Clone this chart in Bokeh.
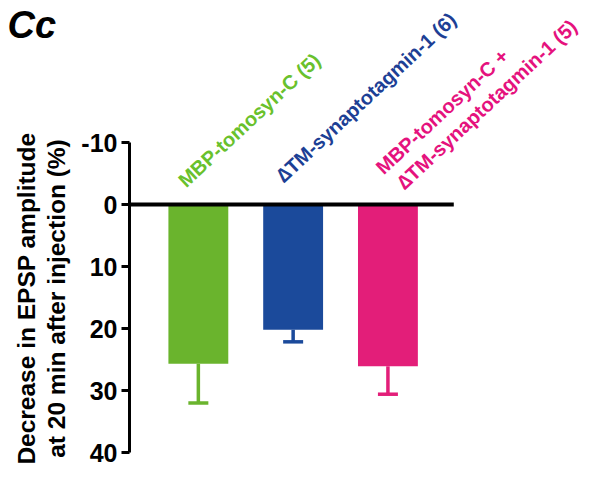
import math
from bokeh.plotting import figure
from bokeh.layouts import row
from bokeh.models import Range1d, FixedTicker, ColumnDataSource, PrintfTickFormatter
from bokeh.core.properties import value
from bokeh.embed import file_html
from bokeh.resources import INLINE

# ---- data ----
groups = ["MBP-tomosyn-C (5)", "\u2206TM-synaptotagmin-1 (6)", "MBP-tomosyn-C +\n\u2206TM-synaptotagmin-1 (5)"]
means = [25.7, 20.2, 26.1]
sems = [6.3, 1.95, 4.5]
y_ticks = [-10, 0, 10, 20, 30, 40]
panel_label = "Cc"
y_label_lines = ["Decrease in EPSP amplitude", "at 20 min after injection (%)"]
bar_colors = ["#6ab42d", "#1b4a9b", "#e31e79"]
text_colors = ["#69c12c", "#1d3f95", "#e5127d"]

FONT = "Liberation Sans"
W, H = 581, 465
LEFT_W = 78            # width of the side panel holding the panel label / axis title
AXIS_X = 128           # picture px of the y axis
X_PX0, X_STEP = 197, 95.0
Y_TOP_TICK, Y_BOT_TICK = 142, 452
Y_STEP = (Y_BOT_TICK - Y_TOP_TICK) / (max(y_ticks) - min(y_ticks))
Y_PX0 = Y_TOP_TICK - min(y_ticks) * Y_STEP

def px2x(px):
    return 1 + (px - X_PX0) / X_STEP

def py2y(py):
    return (py - Y_PX0) / Y_STEP

# ---- side panel: "Cc" and the two-line axis title ----
side = figure(width=LEFT_W, height=H, output_backend="svg", toolbar_location=None,
              title=None,
              x_range=Range1d(0, LEFT_W), y_range=Range1d(H, 0),
              x_axis_location=None, y_axis_location=None,
              min_border=0)
side.outline_line_color = None
side.grid.visible = False
side.text(x=[7], y=[24], text=[panel_label], text_font=value(FONT),
          text_font_style="bold italic", text_font_size="38px",
          text_align="left", text_baseline="alphabetic", text_color="black")
side.text(x=[26, 56], y=[298, 298], text=y_label_lines, angle=math.pi / 2,
          text_font=value(FONT), text_font_style="bold", text_font_size="24.5px",
          text_align="center", text_baseline="alphabetic", text_color="black")

# ---- main plot ----
p = figure(width=W - LEFT_W, height=H, output_backend="svg", toolbar_location=None,
           title=None,
           x_range=Range1d(px2x(AXIS_X), px2x(W)),
           y_range=Range1d(py2y(H), py2y(0)),
           x_axis_location=None, min_border_left=AXIS_X - LEFT_W,
           min_border_right=0, min_border_top=0, min_border_bottom=0)
p.outline_line_color = None
p.grid.visible = False

yax = p.yaxis[0]
yax.ticker = FixedTicker(ticks=y_ticks)
yax.formatter = PrintfTickFormatter(format="%d")
yax.bounds = (min(y_ticks), max(y_ticks))
yax.axis_line_width = 3
yax.major_tick_line_width = 3
yax.major_tick_out = 8
yax.major_tick_in = 0
yax.minor_tick_line_color = None
yax.major_label_text_font = FONT
yax.major_label_text_font_style = "bold"
yax.major_label_text_font_size = "25px"
yax.major_label_text_color = "black"
yax.major_label_standoff = 4

xs = [i + 1 for i in range(len(groups))]
src = ColumnDataSource(dict(x=xs, mean=means, color=bar_colors,
                            end=[m + s for m, s in zip(means, sems)]))
p.vbar(x="x", top=0, bottom="mean", width=60 / X_STEP, fill_color="color",
       line_color=None, source=src)
p.segment(x0="x", y0="mean", x1="x", y1="end", line_color="color",
          line_width=3.5, source=src)
p.scatter(x="x", y="end", marker="dash", size=20, line_color="color",
          line_width=3.5, source=src)

# zero line
p.segment(x0=[px2x(AXIS_X)], y0=[0], x1=[px2x(453)], y1=[0],
          line_color="black", line_width=4)

# rotated group labels: (dx px from bar centre, dy px from zero line)
anchors = {0: [(-17, -21)], 1: [(-14, -26)], 2: [(-9, -34), (12, -19)]}
tx, ty, tt, tc = [], [], [], []
for i, g in enumerate(groups):
    for (dx, dy), line in zip(anchors[i], g.split("\n")):
        tx.append(xs[i] + dx / X_STEP)
        ty.append(py2y(Y_PX0 + dy))
        tt.append(line)
        tc.append(text_colors[i])
p.text(x=tx, y=ty, text=tt, text_color=tc, angle=43, angle_units="deg",
       text_align="left", text_baseline="alphabetic",
       text_font=value(FONT), text_font_style="bold",
       text_font_size="20px")

layout = row(side, p, spacing=0)
open("out.html", "w").write(file_html(layout, INLINE))
